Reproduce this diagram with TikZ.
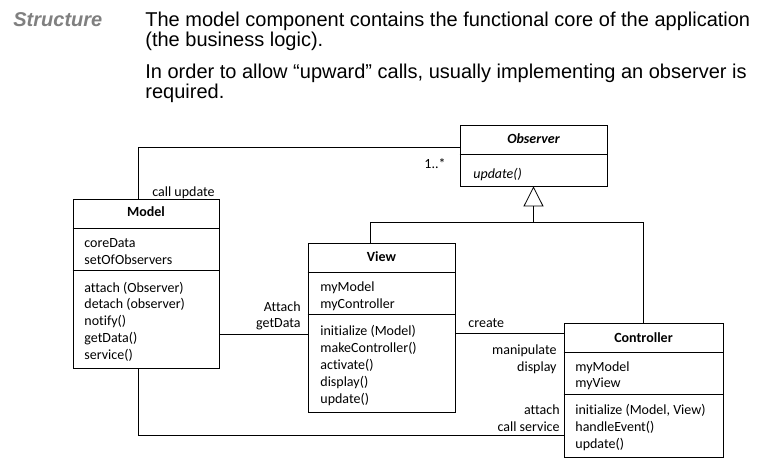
\documentclass[tikz,border=0pt]{standalone}
\usepackage{fontspec}
\setmainfont{Liberation Sans}
\newfontfamily\carlito{Carlito}[Ligatures=NoCommon]
\usetikzlibrary{arrows.meta}
\newcommand\umlfont{\carlito\fontsize{14}{17}\selectfont}
\newcommand\headfont{\fontsize{20}{24}\selectfont}

\begin{document}
\begin{tikzpicture}[x=1pt,y=-1pt,line width=0.8pt,
  cls/.style={draw, inner sep=0},
  row/.style={anchor=base west, inner sep=0, font=\umlfont},
  lbl/.style={anchor=base east, inner sep=0, font=\umlfont},
  ttl/.style={anchor=base, inner sep=0, font=\umlfont\bfseries}]
\useasboundingbox (0,0) rectangle (764,467);
% header text
\node[anchor=base west, inner sep=0, text=gray, font=\headfont\bfseries\itshape] (hd) at (13,26) {Structure};
\node[anchor=base west, inner sep=0, font=\headfont] (p1) at (145,26) {The model component contains the functional core of the application};
\node[anchor=base west, inner sep=0, font=\headfont] (p2) at (145,46) {(the business logic).};
\node[anchor=base west, inner sep=0, font=\headfont] (p3) at (145,78) {In order to allow “upward” calls, usually implementing an observer is};
\node[anchor=base west, inner sep=0, font=\headfont] (p4) at (145,98) {required.};
% classes
\node[cls, minimum width=146, minimum height=169] (model) at (146,283.5) {};
\node[cls, minimum width=147, minimum height=61] (obs) at (533.5,155.5) {};
\node[cls, minimum width=147, minimum height=169] (view) at (381.5,327.5) {};
\node[cls, minimum width=159, minimum height=134] (ctrl) at (643.5,390) {};
\foreach \n/\y in {model/228, model/270, obs/154, view/272, view/314, ctrl/352, ctrl/394}
  \draw (\n.west |- 0,\y) -- (\n.east |- 0,\y);
\node[ttl] (tm) at (146,216) {Model};
\node[ttl, font=\umlfont\bfseries\itshape] (to) at (533.5,143) {Observer};
\node[ttl] (tv) at (381.5,261) {View};
\node[ttl] (tc) at (643.5,342) {Controller};
\node[row, font=\umlfont\itshape] (ou) at (473,178) {update()};
\foreach \t [count=\i from 0] in {coreData, setOfObservers}
  \node[row] (ma\i) at (84,{247+17*\i}) {\t};
\foreach \t [count=\i from 0] in {{attach (Observer)}, {detach (observer)}, notify(), getData(), service()}
  \node[row] (mm\i) at (84,{292+16.8*\i}) {\t};
\foreach \t [count=\i from 0] in {myModel, myController}
  \node[row] (va\i) at (320,{291+17*\i}) {\t};
\foreach \t [count=\i from 0] in {{initialize (Model)}, makeController(), activate(), display(), update()}
  \node[row] (vm\i) at (320,{335+17*\i}) {\t};
\foreach \t [count=\i from 0] in {myModel, myView}
  \node[row] (ca\i) at (575,{371+16.5*\i}) {\t};
\foreach \t [count=\i from 0] in {{initialize (Model, View)}, handleEvent(), update()}
  \node[row] (cm\i) at (575,{414+17*\i}) {\t};
% labels
\node[row] (lcu) at (152,196) {call update};
\node[lbl] (lmu) at (446,168) {1..*};
\node[lbl] (lat) at (301,311) {Attach};
\node[lbl] (lgd) at (301,327) {getData};
\node[row] (lcr) at (468,327) {create};
\node[lbl] (lma) at (557,354) {manipulate};
\node[lbl] (ldi) at (557,371) {display};
\node[lbl] (lac) at (560,414) {attach};
\node[lbl] (lcs) at (560,431) {call service};
% connectors
\draw ([yshift=8.5pt]obs.west) -| ([xshift=-8pt]model.north);
\draw ([yshift=-50.5pt]model.east) -- ([yshift=-50.5pt]model.east -| view.west);
\draw ([yshift=-5.5pt]view.east) -- ([yshift=-5.5pt]view.east -| ctrl.west);
\draw ([xshift=-8pt]model.south) |- ([yshift=-45pt]ctrl.west);
\coordinate (gen) at ([yshift=-36pt]obs.south);
\draw[-{Triangle[open,length=20pt,width=20pt]}] (gen) -- (obs.south);
\draw ([xshift=-11.5pt]view.north) |- (gen) -| (ctrl.north);
\end{tikzpicture}
\end{document}
